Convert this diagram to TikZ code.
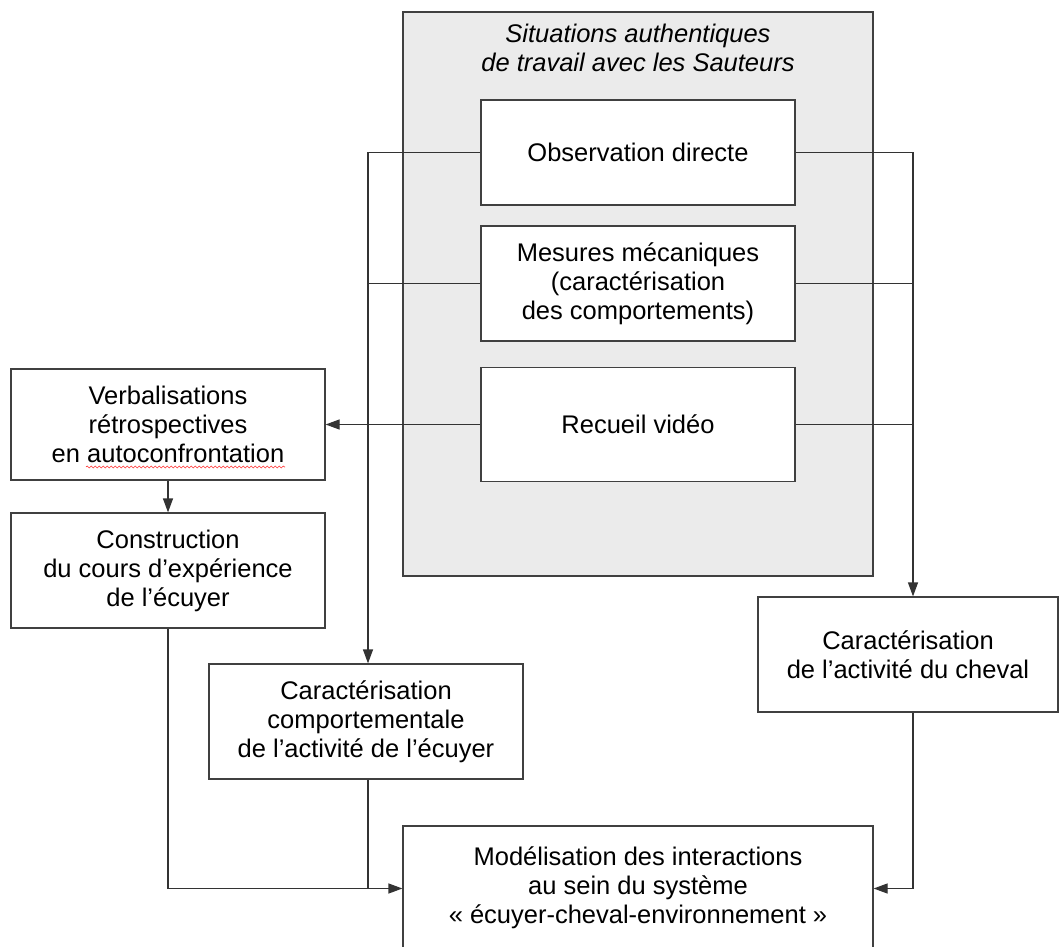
\documentclass[tikz,border=0pt]{standalone}
\usepackage{fontspec}
\setmainfont{Liberation Sans}
\usetikzlibrary{arrows.meta,decorations.pathmorphing}
\begin{document}
\begin{tikzpicture}[x=1pt,y=-1pt,
  box/.style={draw=black!75,line width=1.2pt,fill=white,rectangle,inner sep=0pt,align=center,
     font=\fontsize{25.5}{29}\selectfont},
  conn/.style={draw=black!80,line width=1.2pt},
  arr/.style={conn,-{Triangle[length=14pt,width=10pt]}}]
\useasboundingbox (0,0) rectangle (1060,947);
\fill[white] (0,0) rectangle (1060,947);
% group
\node[draw=black!75,line width=1.2pt,fill=black!8,rectangle,inner sep=0pt,minimum width=470pt,minimum height=564pt] (grp) at (638,294) {};
\node[font=\fontsize{25.5}{29}\selectfont\itshape,align=center,inner sep=0pt] (title) at (638,47.5) {Situations authentiques\\de travail avec les Sauteurs};
% boxes
\node[box,minimum width=314pt,minimum height=105pt] (obs) at (638,152.5) {Observation directe};
\node[box,minimum width=314pt,minimum height=115pt] (mes) at (638,283.5) {Mesures mécaniques\\(caractérisation\\des comportements)};
\node[box,minimum width=314pt,minimum height=114pt] (vid) at (638,424.5) {Recueil vidéo};
\node[box,minimum width=314pt,minimum height=111pt] (verb) at (168,424.5) {Verbalisations\\rétrospectives\\en autoconfrontation};
\node[box,minimum width=314pt,minimum height=115pt] (cons) at (168,570.5) {Construction\\du cours d’expérience\\de l’écuyer};
\node[box,minimum width=314pt,minimum height=115pt] (comp) at (366,721.5) {Caractérisation\\comportementale\\de l’activité de l’écuyer};
\node[box,minimum width=300pt,minimum height=115pt] (chev) at (908,654.5) {Caractérisation\\de l’activité du cheval};
\node[box,minimum width=470pt,minimum height=124pt] (mod) at (638,888) {Modélisation des interactions\\au sein du système\\« écuyer-cheval-environnement »};
% spell-check underline
\draw[red!80!white,line width=0.6pt,decorate,decoration={snake,segment length=4pt,amplitude=1pt}] (86,467) -- (285,467);
% coordinates
\coordinate (L) at (368,0);
\coordinate (R) at (913,0);
\coordinate (B) at (0,888.5);
% left collectors
\draw[conn] (obs.west) -- (obs.west -| L);
\draw[conn] (mes.west) -- (mes.west -| L);
\draw[arr] (obs.west -| L) -- (comp.north -| L);
\draw[arr] (vid.west) -- (verb.east);
% right collectors
\draw[conn] (obs.east) -- (obs.east -| R);
\draw[conn] (mes.east) -- (mes.east -| R);
\draw[conn] (vid.east) -- (vid.east -| R);
\draw[arr] (obs.east -| R) -- (chev.north -| R);
% left column
\draw[arr] (verb.south) -- (cons.north);
\draw[arr] (cons.south) -- (cons.south |- B) -- (B -| mod.west);
\draw[conn] (comp.south -| L) -- (B -| L);
% right column
\draw[arr] (chev.south -| R) -- (B -| R) -- (B -| mod.east);
\end{tikzpicture}
\end{document}
